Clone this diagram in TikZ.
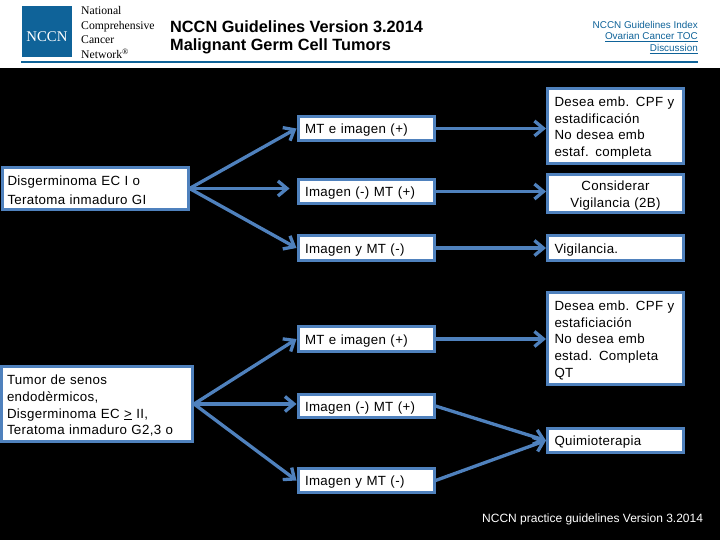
\documentclass[tikz,border=0pt]{standalone}
\usepackage{fontspec}
\setmainfont{Liberation Sans}
\newfontfamily\serifhead{Liberation Serif}
\newfontfamily\boxfont[LetterSpace=2.5,WordSpace=0.8]{Liberation Sans}
\usetikzlibrary{arrows.meta}
\definecolor{bl}{HTML}{4F81BD}
\definecolor{nccn}{HTML}{0F6399}
\tikzset{
  x=1pt,y=-1pt,
  boxnode/.style n args={2}{draw=bl,line width=3pt,fill=white,text=black,inner ysep=0pt,inner xsep=#2pt,
    text width={#1pt-2*#2pt-3pt},minimum width={#1pt-3pt},outer sep=1.5pt,
    font=\boxfont\fontsize{13.3}{16.7}\selectfont,align=left,
    execute at begin node={\rule{0pt}{13.5pt}}},
  flow/.style={draw=bl,line width=3.3pt,-{Straight Barb[length=9pt,width=15pt,line width=3.3pt]}},
  logotxt/.style={anchor=west,inner sep=0pt,text=black,font=\serifhead\fontsize{11.7}{13}\selectfont},
  linktxt/.style={anchor=east,inner sep=0pt,text=nccn,font=\fontsize{9.9}{11}\selectfont},
  titletxt/.style={anchor=west,inner sep=0pt,text=black,font=\bfseries\fontsize{16.3}{18}\selectfont}
}
\begin{document}
\begin{tikzpicture}
\useasboundingbox (0,0) rectangle (720,540);
\fill[black] (0,0) rectangle (720,540);
\fill[white] (0,0) rectangle (720,68);
\fill[nccn] (22,6) rectangle (72,57);
\fill[nccn] (21,61) rectangle (698,63);
\node[anchor=center,inner sep=0pt,text=white,font=\serifhead\fontsize{14.8}{15}\selectfont] (logo) at (47,37) {NCCN};
\node[logotxt] (l1) at (81,11) {National};
\node[logotxt] (l2) at (81,27) {Comprehensive};
\node[logotxt] (l3) at (81,40) {Cancer};
\node[logotxt] (l4) at (81,54) {Network\textsuperscript{®}};
\node[titletxt] (t1) at (170,27) {NCCN Guidelines Version 3.2014};
\node[titletxt] (t2) at (170,46) {Malignant Germ Cell Tumors};
\node[linktxt] (k1) at (698,25) {NCCN Guidelines Index};
\node[linktxt] (k2) at (698,37) {\underline{Ovarian Cancer TOC}};
\node[linktxt] (k3) at (698,49) {\underline{Discussion}};

\node[boxnode={189}{5.5},minimum height=42pt,execute at begin node={}] (A) at (95,188.5) {Disgerminoma EC I o\\[2pt]Teratoma inmaduro GI};
\node[boxnode={194}{5.5},minimum height=75pt,execute at begin node={}] (C) at (97,404) {Tumor de senos\\endodèrmicos,\\Disgerminoma EC \underline{>} II,\\Teratoma inmaduro G2,3 o};

\node[boxnode={139}{7},minimum height=24pt] (B1) at (366,128.5) {MT e imagen (+)};
\node[boxnode={139}{7},minimum height=24pt] (B2) at (366,191.5) {Imagen (-) MT (+)};
\node[boxnode={139}{7},minimum height=25pt] (B3) at (366,248) {Imagen y MT (-)};
\node[boxnode={139}{7},minimum height=25pt] (B4) at (366,339) {MT e imagen (+)};
\node[boxnode={139}{7},minimum height=23pt] (B5) at (366,406) {Imagen (-) MT (+)};
\node[boxnode={139}{7},minimum height=24pt] (B6) at (366,480.5) {Imagen y MT (-)};

\node[boxnode={139}{7},minimum height=75pt] (R1) at (615.5,126) {\rlap{Desea emb. CPF\hspace{4.5pt}y}\\estadificación\\No desea emb\\estaf. completa};
\node[boxnode={139}{7},minimum height=38pt,align=center] (R2) at (615.5,193.5) {Considerar\\[1pt]Vigilancia (2B)};
\node[boxnode={139}{7},minimum height=25pt] (R3) at (615.5,248) {Vigilancia.};
\node[boxnode={139}{7},minimum height=92pt] (R4) at (615.5,338.5) {\rlap{Desea emb. CPF\hspace{4.5pt}y}\\estaficiación\\No desea emb\\estad. Completa\\QT};
\node[boxnode={139}{7},minimum height=24pt] (R5) at (615.5,440.5) {Quimioterapia};

\node[anchor=west,inner sep=0pt,text=white,font=\fontsize{12}{14}\selectfont] (foot) at (482,519.5) {NCCN practice guidelines Version 3.2014};

\draw[flow] (A.east) -- (B1.west);
\draw[flow,shorten >=7pt] (A.east) -- (A.east -| B2.west);
\draw[flow] (A.east) -- (B3.west);
\draw[flow] (C.east) -- (B4.west);
\draw[flow] (C.east) -- (C.east -| B5.west);
\draw[flow] (C.east) -- (B6.west);
\draw[flow] (B1.east) -- (B1.east -| R1.west);
\draw[flow] (B2.east) -- (B2.east -| R2.west);
\draw[flow] (B3.east) -- (R3.west);
\draw[flow] (B4.east) -- (B4.east -| R4.west);
\draw[flow] (B5.east) -- (R5.west);
\draw[flow] (B6.east) -- (R5.west);
\end{tikzpicture}
\end{document}
